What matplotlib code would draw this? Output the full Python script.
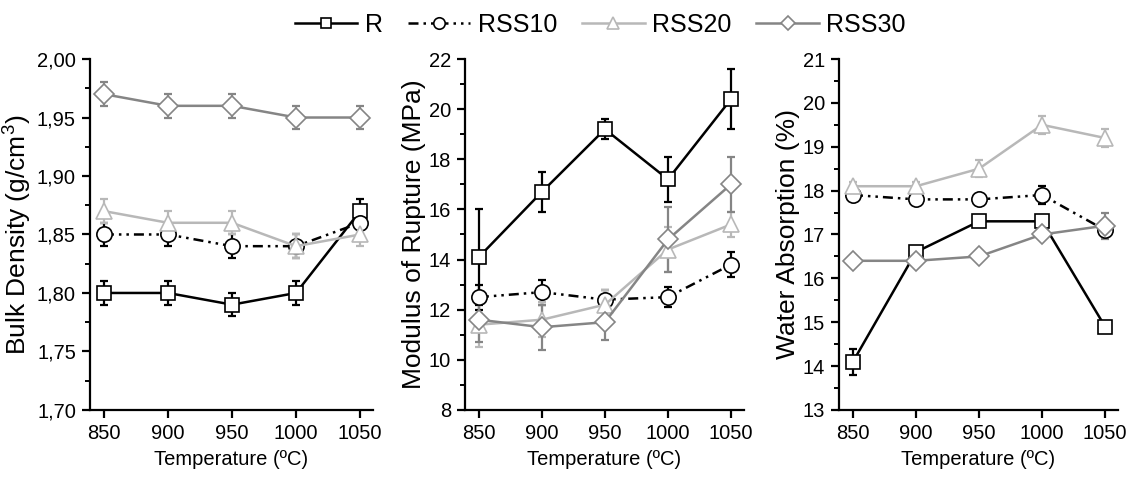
import numpy as np
import matplotlib.pyplot as plt
from matplotlib.ticker import MultipleLocator, FuncFormatter

plt.rcParams['font.family'] = ['Liberation Sans', 'DejaVu Sans']
plt.rcParams['mathtext.fontset'] = 'custom'
plt.rcParams['mathtext.rm'] = 'Liberation Sans'
plt.rcParams['mathtext.it'] = 'Liberation Sans:italic'

temps = [850, 900, 950, 1000, 1050]
series = ['R', 'RSS10', 'RSS20', 'RSS30']

# bulk density (g/cm3)
bd_R = [1.80, 1.80, 1.79, 1.80, 1.87]
bd_RSS10 = [1.85, 1.85, 1.84, 1.84, 1.86]
bd_RSS20 = [1.87, 1.86, 1.86, 1.84, 1.85]
bd_RSS30 = [1.97, 1.96, 1.96, 1.95, 1.95]
bd_err_R = [0.01, 0.01, 0.01, 0.01, 0.01]
bd_err_RSS10 = [0.01, 0.01, 0.01, 0.01, 0.01]
bd_err_RSS20 = [0.01, 0.01, 0.01, 0.01, 0.01]
bd_err_RSS30 = [0.01, 0.01, 0.01, 0.01, 0.01]

# modulus of rupture (MPa)
mor_R = [14.1, 16.7, 19.2, 17.2, 20.4]
mor_RSS10 = [12.5, 12.7, 12.4, 12.5, 13.8]
mor_RSS20 = [11.4, 11.6, 12.2, 14.4, 15.4]
mor_RSS30 = [11.6, 11.3, 11.5, 14.8, 17.0]
mor_err_R = [1.9, 0.8, 0.4, 0.9, 1.2]
mor_err_RSS10 = [0.5, 0.5, 0.4, 0.4, 0.5]
mor_err_RSS20 = [0.9, 0.7, 0.6, 0.9, 0.5]
mor_err_RSS30 = [0.9, 0.9, 0.7, 1.3, 1.1]

# water absorption (%)
wa_R = [14.1, 16.6, 17.3, 17.3, 14.9]
wa_RSS10 = [17.9, 17.8, 17.8, 17.9, 17.1]
wa_RSS20 = [18.1, 18.1, 18.5, 19.5, 19.2]
wa_RSS30 = [16.4, 16.4, 16.5, 17.0, 17.2]
wa_err_R = [0.3, 0.1, 0.1, 0.1, 0.1]
wa_err_RSS10 = [0.1, 0.1, 0.1, 0.2, 0.1]
wa_err_RSS20 = [0.1, 0.1, 0.2, 0.2, 0.2]
wa_err_RSS30 = [0.1, 0.1, 0.1, 0.1, 0.3]

styles = {
    'R': dict(color='black', marker='s', ms=10, ls='-'),
    'RSS10': dict(color='black', marker='o', ms=11, ls=(0, (4, 2, 1, 2, 1, 2))),
    'RSS20': dict(color='#b8b8b8', marker='^', ms=12, ls='-'),
    'RSS30': dict(color='#858585', marker='D', ms=10, ls='-'),
}

panels = [
    ('Bulk Density (g/cm$^3$)', (1.70, 2.00), 0.05, '{:.2f}',
     [bd_R, bd_RSS10, bd_RSS20, bd_RSS30],
     [bd_err_R, bd_err_RSS10, bd_err_RSS20, bd_err_RSS30]),
    ('Modulus of Rupture (MPa)', (8, 22), 2, '{:.0f}',
     [mor_R, mor_RSS10, mor_RSS20, mor_RSS30],
     [mor_err_R, mor_err_RSS10, mor_err_RSS20, mor_err_RSS30]),
    ('Water Absorption (%)', (13, 21), 1, '{:.0f}',
     [wa_R, wa_RSS10, wa_RSS20, wa_RSS30],
     [wa_err_R, wa_err_RSS10, wa_err_RSS20, wa_err_RSS30]),
]

fig = plt.figure(figsize=(11.37, 4.8), dpi=100)
lefts = [0.079, 0.409, 0.738]
widths = [0.249, 0.245, 0.245]

handles = []
for i, (ylabel, ylim, step, fmt, vals, errs) in enumerate(panels):
    ax = fig.add_axes([lefts[i], 0.146, widths[i], 0.731])
    for name, v, e in zip(series, vals, errs):
        st = styles[name]
        ax.errorbar(temps, v, yerr=e, fmt='none', ecolor=st['color'],
                    elinewidth=1.6, capsize=3, capthick=1.6, zorder=2)
        ln, = ax.plot(temps, v, color=st['color'], ls=st['ls'], lw=1.8,
                      marker=st['marker'], ms=st['ms'], mfc='white',
                      mec=st['color'], mew=1.2, zorder=3, label=name)
        if i == 0:
            handles.append(ln)
    ax.set_xlim(839, 1060)
    ax.set_ylim(*ylim)
    ax.xaxis.set_major_locator(MultipleLocator(50))
    ax.yaxis.set_major_locator(MultipleLocator(step))
    ax.yaxis.set_minor_locator(MultipleLocator(step / 2))
    ax.yaxis.set_major_formatter(FuncFormatter(lambda v, p, f=fmt: f.format(v).replace('.', ',')))
    for s in ['top', 'right']:
        ax.spines[s].set_visible(False)
    for s in ['left', 'bottom']:
        ax.spines[s].set_linewidth(1.6)
    ax.tick_params(which='major', direction='out', length=6, width=1.6, labelsize=14.5, pad=4)
    ax.tick_params(which='minor', direction='out', length=3.5, width=1.4)
    ax.set_ylabel(ylabel, fontsize=19, labelpad=2)
    ax.set_xlabel('Temperature (ºC)', fontsize=14.5, labelpad=5)

fig.legend(handles=handles, loc='upper center', bbox_to_anchor=(0.528, 1.02), ncol=4,
           frameon=False, fontsize=18, numpoints=1, handlelength=2.5, markerscale=0.75,
           handletextpad=0.3, columnspacing=1.0)

fig.savefig('out.png', dpi=100)
